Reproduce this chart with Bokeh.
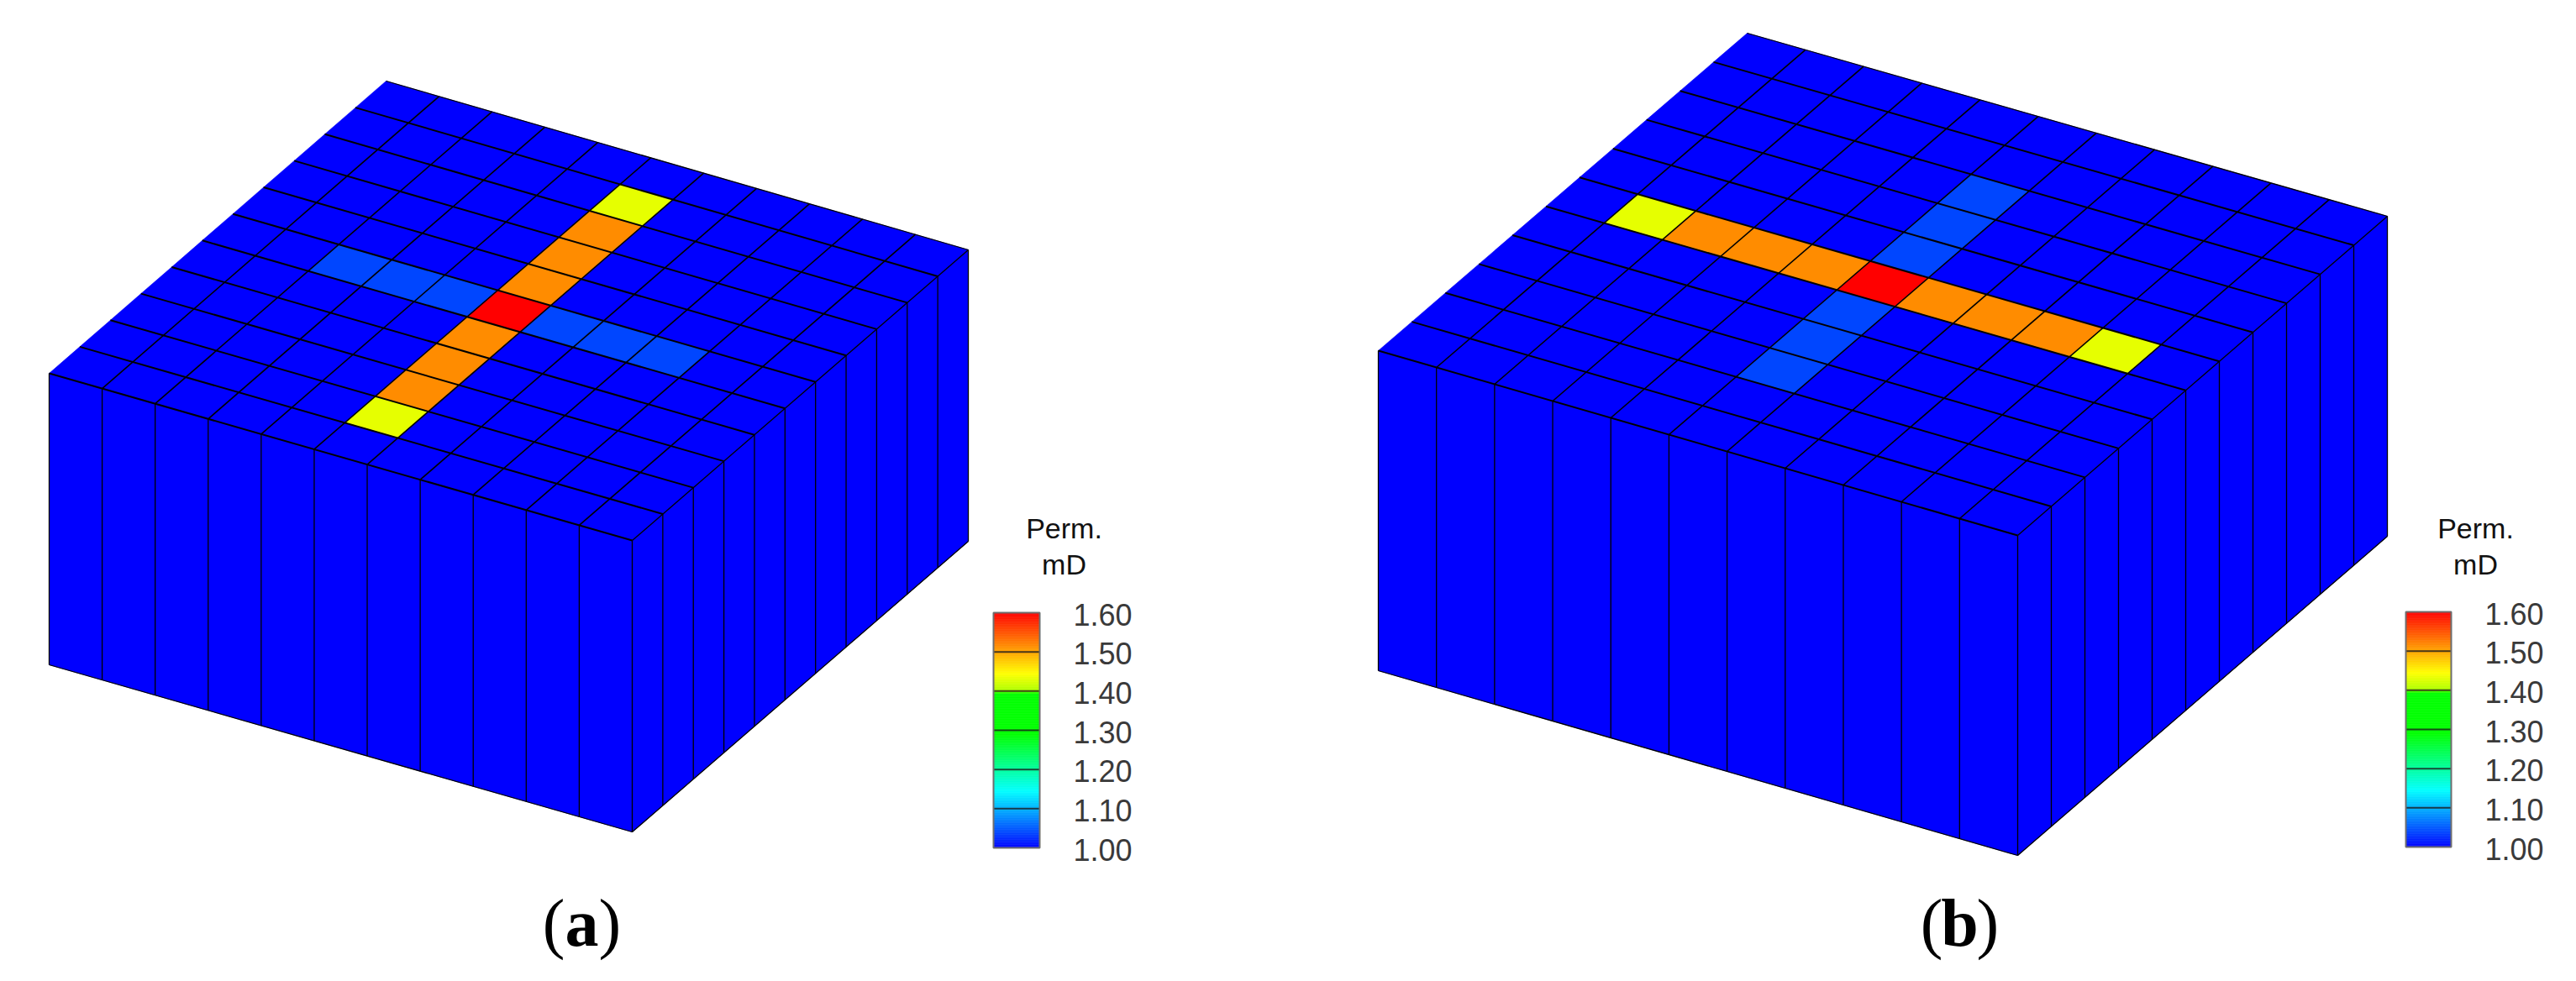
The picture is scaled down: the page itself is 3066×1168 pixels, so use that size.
from bokeh.plotting import figure
from bokeh.embed import file_html
from bokeh.resources import INLINE
from bokeh.core.properties import value
from bokeh.models import Range1d

B, L, Y, O, R = 1.00, 1.04, 1.432, 1.515, 1.60

PERM_A = [  # rows j, columns i
    [B, B, B, B, B, B, B, B, B, B, B],
    [B, B, B, B, B, Y, B, B, B, B, B],
    [B, B, B, B, B, O, B, B, B, B, B],
    [B, B, B, B, B, O, B, B, B, B, B],
    [B, B, B, B, B, O, B, B, B, B, B],
    [B, B, L, L, L, R, L, L, L, B, B],
    [B, B, B, B, B, O, B, B, B, B, B],
    [B, B, B, B, B, O, B, B, B, B, B],
    [B, B, B, B, B, O, B, B, B, B, B],
    [B, B, B, B, B, Y, B, B, B, B, B],
    [B, B, B, B, B, B, B, B, B, B, B],
]
PERM_B = [
    [B, B, B, B, B, B, B, B, B, B, B],
    [B, B, B, B, B, B, B, B, B, B, B],
    [B, B, B, B, B, L, B, B, B, B, B],
    [B, B, B, B, B, L, B, B, B, B, B],
    [B, B, B, B, B, L, B, B, B, B, B],
    [B, Y, O, O, O, R, O, O, O, Y, B],
    [B, B, B, B, B, L, B, B, B, B, B],
    [B, B, B, B, B, L, B, B, B, B, B],
    [B, B, B, B, B, L, B, B, B, B, B],
    [B, B, B, B, B, B, B, B, B, B, B],
    [B, B, B, B, B, B, B, B, B, B, B],
]
LEFT_FACE = [1.00] * 11
RIGHT_FACE = [1.00] * 11
TICKS = [1.00, 1.10, 1.20, 1.30, 1.40, 1.50, 1.60]
TICK_LABELS = ["1.00", "1.10", "1.20", "1.30", "1.40", "1.50", "1.60"]
TITLE = ["Perm.", "mD"]

# colour map stops
STOPS = [(1.00, (0, 0, 255)), (1.145, (0, 255, 255)), (1.29, (0, 255, 0)),
         (1.395, (0, 255, 0)), (1.40, (170, 255, 0)), (1.445, (255, 255, 0)), (1.60, (255, 0, 0))]


def cmap(v):
    for (a, ca), (b, cb) in zip(STOPS[:-1], STOPS[1:]):
        if v <= b:
            t = max(0.0, (v - a) / (b - a))
            c = [round(x + (y - x) * t) for x, y in zip(ca, cb)]
            return "#%02x%02x%02x" % tuple(c)
    return "#ff0000"


p = figure(width=3050, height=1152, output_backend="svg", toolbar_location=None,
           x_range=Range1d(0, 3050), y_range=Range1d(1152, 0),
           min_border=0, outline_line_color=None, background_fill_color="white")
p.axis.visible = False
p.grid.visible = False


def draw_panel(perm, T, Rt, Lf, F, H, left, right, bar, label_x, labels_x, title_x, letter):
    n = 11

    def P(i, j):
        a, c = i / n, j / n
        x = (1 - a) * (1 - c) * T[0] + a * (1 - c) * Rt[0] + (1 - a) * c * Lf[0] + a * c * F[0]
        y = (1 - a) * (1 - c) * T[1] + a * (1 - c) * Rt[1] + (1 - a) * c * Lf[1] + a * c * F[1]
        return x, y

    xs, ys, cs = [], [], []
    for j in range(n):
        for i in range(n):
            q = [P(i, j), P(i + 1, j), P(i + 1, j + 1), P(i, j + 1)]
            xs.append([a for a, _ in q])
            ys.append([b for _, b in q])
            cs.append(cmap(perm[j][i]))
    for k in range(n):
        a0, b0 = P(k, n), P(k + 1, n)
        xs.append([a0[0], b0[0], b0[0], a0[0]])
        ys.append([a0[1], b0[1], b0[1] + H, a0[1] + H])
        cs.append(cmap(left[k]))
        a0, b0 = P(n, n - k), P(n, n - k - 1)
        xs.append([a0[0], b0[0], b0[0], a0[0]])
        ys.append([a0[1], b0[1], b0[1] + H, a0[1] + H])
        cs.append(cmap(right[k]))
    p.patches(xs, ys, fill_color=cs, line_color=cs, line_width=0.6)

    # top-face grid
    gx, gy = [], []
    for k in range(1, n + 1):
        a0, b0 = P(0, k), P(n, k)
        gx.append([a0[0], b0[0]])
        gy.append([a0[1], b0[1]])
    p.multi_line(gx, gy, line_color="#000000", line_width=2.0)
    gx, gy = [], []
    for k in range(1, n):
        a0, b0 = P(k, 0), P(k, n)
        gx.append([a0[0], b0[0]])
        gy.append([a0[1], b0[1]])
    p.multi_line(gx, gy, line_color="#000000", line_width=1.6)

    # side-face verticals and outer edges
    vx, vy = [], []
    for k in range(n + 1):
        a0 = P(k, n)
        vx.append([a0[0], a0[0]])
        vy.append([a0[1], a0[1] + H])
    for k in range(n):
        a0 = P(n, k)
        vx.append([a0[0], a0[0]])
        vy.append([a0[1], a0[1] + H])
    for s, e in [(P(0, n), P(n, n)), (P(n, n), P(n, 0))]:
        vx.append([s[0], e[0]])
        vy.append([s[1] + H, e[1] + H])
    vx.append([T[0], Rt[0]])
    vy.append([T[1], Rt[1]])
    vx.append([Rt[0], F[0]])
    vy.append([Rt[1], F[1]])
    p.multi_line(vx, vy, line_color="#000000", line_width=1.3)

    # colour bar
    x0, x1, ytop, ybot = bar
    Y_of = lambda v: ybot - (v - 1.0) / 0.6 * (ybot - ytop)
    steps = 140
    vals = [1.0 + 0.6 * s / steps for s in range(steps)]
    p.quad(left=x0, right=x1,
           top=[Y_of(v + 0.6 / steps) for v in vals],
           bottom=[Y_of(v) for v in vals],
           fill_color=[cmap(v + 0.3 / steps) for v in vals],
           line_color=[cmap(v + 0.3 / steps) for v in vals], line_width=0.5)
    inner = [t for t in TICKS if 1.0 < t < 1.6]
    p.segment(x0=x0, x1=x1, y0=[Y_of(t) for t in inner], y1=[Y_of(t) for t in inner],
              line_color="#1a1a1a", line_alpha=0.8, line_width=2)
    p.quad(left=[x0], right=[x1], top=[ytop], bottom=[ybot], fill_alpha=0,
           line_color="#6e6e6e", line_width=2)
    p.text(x=labels_x, y=[Y_of(t) + 2 for t in TICKS], text=TICK_LABELS,
           text_font=value("Liberation Sans"), text_font_size=value("36px"),
           text_color="#3a3a3a", text_align="left", text_baseline="middle")
    p.text(x=[title_x, title_x], y=[628, 671], text=TITLE,
           text_font=value("Liberation Sans"), text_font_size=value("34px"),
           text_color="#111111", text_align="center", text_baseline="middle")

    # caption
    w = 20
    yc = 1098
    p.text(x=[label_x - w], y=[yc], text=["("], text_font=value("Liberation Serif"),
           text_font_size=value("80px"), text_align="right", text_baseline="middle",
           text_color="#000000")
    p.text(x=[label_x], y=[yc], text=[letter], text_font=value("Liberation Serif"),
           text_font_size=value("80px"), text_font_style="bold", text_align="center",
           text_baseline="middle", text_color="#000000")
    p.text(x=[label_x + w], y=[yc], text=[")"], text_font=value("Liberation Serif"),
           text_font_size=value("80px"), text_align="left", text_baseline="middle",
           text_color="#000000")


draw_panel(PERM_A, (459, 96), (1152, 297), (58, 444), (752, 643), 347, LEFT_FACE, RIGHT_FACE,
           (1182, 1237, 729, 1009), 692, 1277, 1266, "a")
draw_panel(PERM_B, (2079, 39), (2841, 257), (1640, 417), (2401, 637), 381, LEFT_FACE, RIGHT_FACE,
           (2863, 2917, 728, 1008), 2332, 2957, 2946, "b")

open("out.html", "w").write(file_html(p, INLINE))
